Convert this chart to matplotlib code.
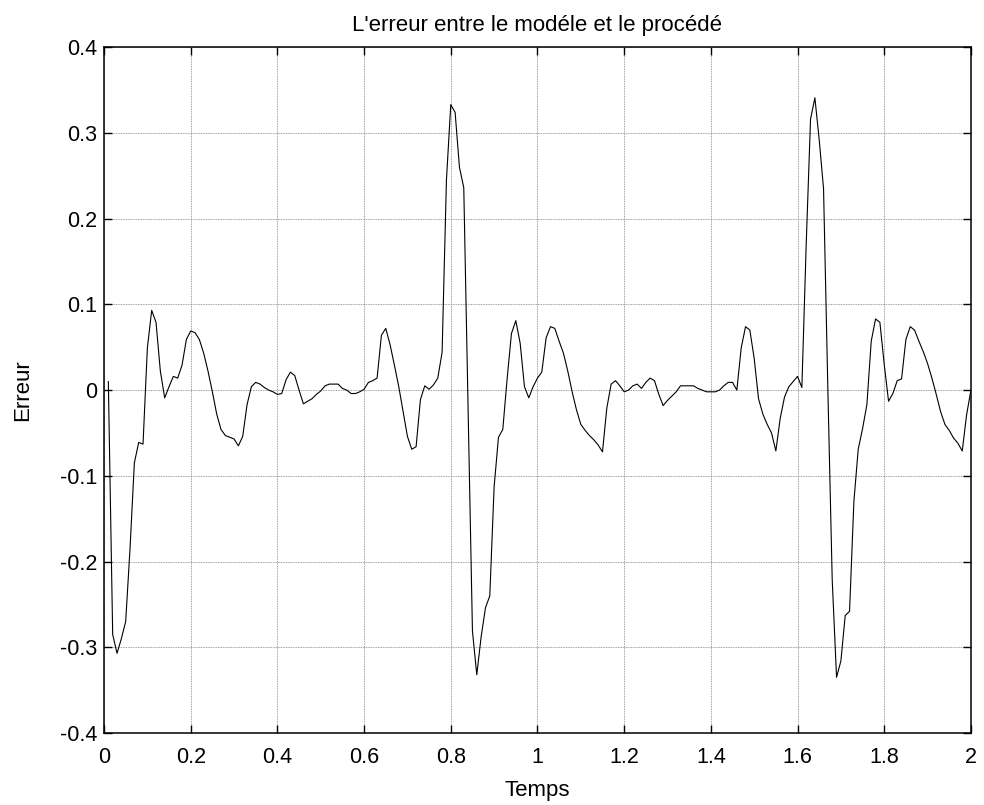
import numpy as np
import matplotlib
matplotlib.use("Agg")
import matplotlib.pyplot as plt

# error samples, one every 0.01 s from 0.01 to 2.00
erreur = [
    0.010, -0.285, -0.307, -0.290, -0.270, -0.185, -0.085, -0.061, -0.063, 0.049,
    0.093, 0.079, 0.022, -0.009, 0.004, 0.016, 0.014, 0.029, 0.059, 0.069,
    0.067, 0.059, 0.043, 0.022, -0.002, -0.028, -0.046, -0.053, -0.055, -0.057,
    -0.065, -0.054, -0.017, 0.004, 0.009, 0.007, 0.003, 0.000, -0.002, -0.005,
    -0.004, 0.012, 0.021, 0.017, 0.000, -0.016, -0.013, -0.010, -0.005, -0.001,
    0.005, 0.007, 0.007, 0.007, 0.002, 0.000, -0.004, -0.004, -0.002, 0.001,
    0.009, 0.011, 0.014, 0.064, 0.072, 0.053, 0.029, 0.004, -0.025, -0.054,
    -0.069, -0.066, -0.011, 0.005, 0.001, 0.006, 0.014, 0.044, 0.245, 0.333,
    0.324, 0.260, 0.236, -0.020, -0.281, -0.332, -0.288, -0.254, -0.240, -0.113,
    -0.055, -0.046, 0.013, 0.066, 0.081, 0.055, 0.004, -0.009, 0.004, 0.014,
    0.021, 0.061, 0.074, 0.072, 0.057, 0.043, 0.022, -0.002, -0.023, -0.040,
    -0.047, -0.053, -0.058, -0.064, -0.072, -0.021, 0.007, 0.011, 0.005, -0.002,
    0.000, 0.005, 0.007, 0.002, 0.009, 0.014, 0.011, -0.005, -0.018, -0.012,
    -0.007, -0.002, 0.005, 0.005, 0.005, 0.005, 0.002, 0.000, -0.002, -0.002,
    -0.002, 0.000, 0.005, 0.009, 0.009, 0.000, 0.049, 0.074, 0.070, 0.037,
    -0.010, -0.028, -0.040, -0.050, -0.071, -0.033, -0.008, 0.004, 0.010, 0.016,
    0.003, 0.170, 0.316, 0.341, 0.292, 0.235, 0.000, -0.221, -0.335, -0.316,
    -0.263, -0.258, -0.130, -0.069, -0.045, -0.017, 0.057, 0.083, 0.079, 0.030,
    -0.013, -0.004, 0.011, 0.013, 0.059, 0.074, 0.070, 0.057, 0.045, 0.031,
    0.014, -0.005, -0.025, -0.040, -0.047, -0.056, -0.062, -0.071, -0.029, 0.000,
]
temps = np.linspace(0.01, 2.0, len(erreur))

x_ticks = [0, 0.2, 0.4, 0.6, 0.8, 1, 1.2, 1.4, 1.6, 1.8, 2]
y_ticks = [-0.4, -0.3, -0.2, -0.1, 0, 0.1, 0.2, 0.3, 0.4]

plt.rcParams['font.family'] = ['Liberation Sans', 'DejaVu Sans']

fig = plt.figure(figsize=(9.84, 8.05), dpi=100)
ax = fig.add_axes([0.1057, 0.0894, 0.881, 0.852])

ax.plot(temps, erreur, color='black', linewidth=0.8)

ax.set_xlim(0, 2)
ax.set_ylim(-0.4, 0.4)
ax.set_xticks(x_ticks)
ax.set_yticks(y_ticks)
ax.set_xticklabels([f'{v:g}' for v in x_ticks])
ax.set_yticklabels([f'{v:g}' for v in y_ticks])

# matlab look: dotted grid, inward ticks on every side
ax.grid(True, color='#808080', linestyle=(0, (1, 1)), linewidth=0.6)
ax.tick_params(direction='in', length=6, width=1, top=True, right=True,
               labelsize=15.5)
ax.tick_params(axis='x', pad=10)
ax.tick_params(axis='y', pad=5)
for s in ax.spines.values():
    s.set_linewidth(1.1)

ax.set_title("L'erreur entre le modéle et le procédé", fontsize=16, pad=11.5)
ax.set_xlabel('Temps', fontsize=16, labelpad=9)
ax.set_ylabel('Erreur', fontsize=16, labelpad=19)

fig.savefig('out.png', dpi=100)
